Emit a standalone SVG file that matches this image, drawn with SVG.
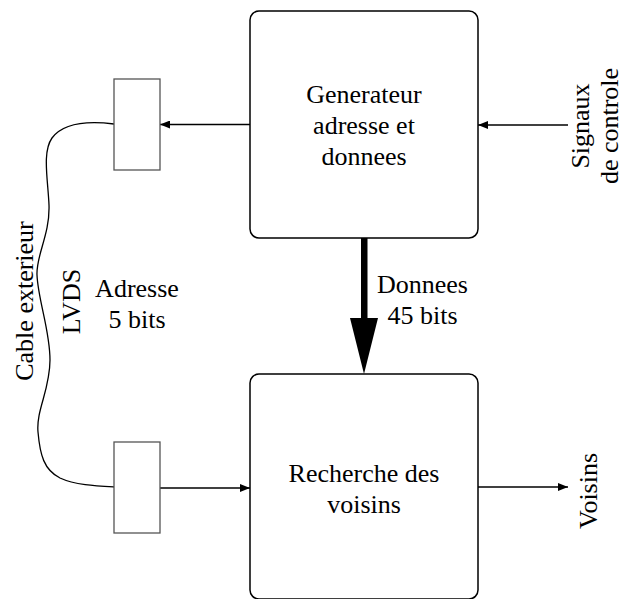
<svg xmlns="http://www.w3.org/2000/svg" width="624" height="599" viewBox="0 0 624 599">
<style>
  .box { fill: #fff; stroke: #000; stroke-width: 1.5; }
  .conn { fill: #fff; stroke: #555; stroke-width: 1.3; }
  .line { fill: none; stroke: #000; stroke-width: 1.3; }
  .t { font-family: 'Liberation Serif', 'DejaVu Serif', serif; font-size: 26px; fill: #000; text-anchor: middle; }
</style>
<defs>
  <marker id="arr" viewBox="0 0 10 8" refX="10" refY="4" markerWidth="10" markerHeight="8" markerUnits="userSpaceOnUse" orient="auto">
    <path d="M0,0 L10,4 L0,8 z" fill="#000"/>
  </marker>
</defs>
<rect width="624" height="599" fill="#fff"/>
<g id="connectors">
  <line class="line" x1="250" y1="124.5" x2="160" y2="124.5" marker-end="url(#arr)"/>
  <line class="line" x1="568" y1="125" x2="478" y2="125" marker-end="url(#arr)"/>
  <line class="line" x1="160" y1="488" x2="250" y2="488" marker-end="url(#arr)"/>
  <line class="line" x1="478" y1="487" x2="568" y2="487" marker-end="url(#arr)"/>
  <path id="cable" class="line" d="M114,124 C90,121 64,122 52,138 C42,152 48,180 49,205 C50,235 36,255 37,275 C38,300 50,330 50,360 C50,390 36,410 38,432 C40,455 44,470 60,478 C75,485 95,486 114,487"/>
  <g id="bus">
    <rect x="361" y="238" width="6.5" height="82" fill="#000"/>
    <path d="M350,318 L378,318 L364,374 z" fill="#000"/>
  </g>
</g>
<g id="gen" class="t">
  <rect class="box" x="250" y="11" width="228" height="227" rx="9"/>
  <text x="364" y="102.5">Generateur</text>
  <text x="364" y="133.5">adresse et</text>
  <text x="364" y="164.5">donnees</text>
</g>
<g id="rech" class="t">
  <rect class="box" x="250" y="374" width="228" height="225" rx="9"/>
  <text x="364" y="482">Recherche des</text>
  <text x="364" y="513">voisins</text>
</g>
<g id="conn-top">
  <rect class="conn" x="114" y="79" width="46" height="91"/>
</g>
<g id="conn-bottom">
  <rect class="conn" x="114" y="442" width="46" height="91"/>
</g>
<g id="labels" class="t">
  <text transform="translate(589,126) rotate(-90)">Signaux</text>
  <text transform="translate(618,126) rotate(-90)">de controle</text>
  <text transform="translate(597,491) rotate(-90)">Voisins</text>
  <text transform="translate(33,301) rotate(-90)">Cable exterieur</text>
  <text transform="translate(80,301.5) rotate(-90)">LVDS</text>
  <text x="137" y="297">Adresse</text>
  <text x="137" y="328">5 bits</text>
  <text x="422.5" y="293">Donnees</text>
  <text x="422.5" y="324">45 bits</text>
</g>
</svg>
